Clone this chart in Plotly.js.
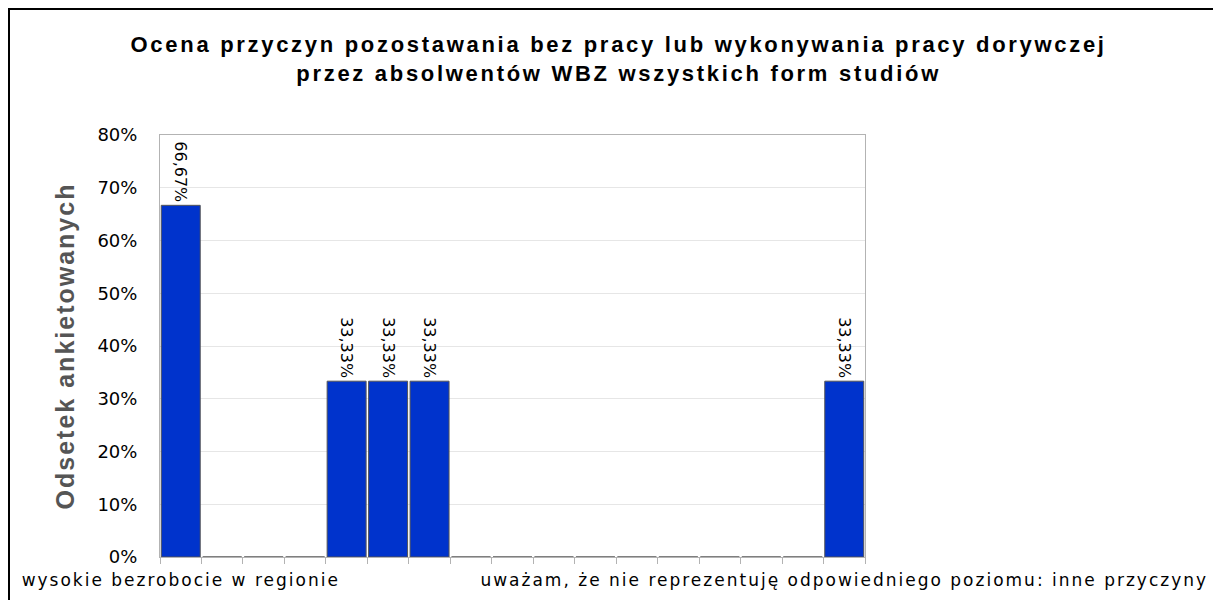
<!DOCTYPE html>
<html>
<head>
<meta charset="utf-8">
<script src="https://cdn.plot.ly/plotly-3.0.1.min.js"></script>
<style>
html,body{margin:0;padding:0;background:#fff;}
#wrap{position:relative;width:1213px;height:600px;overflow:hidden;}
#chart{position:absolute;left:0;top:0;width:1213px;height:600px;}
#frame{position:absolute;left:8px;top:8px;width:1300px;height:700px;border:2px solid #000;pointer-events:none;box-sizing:border-box;}
#chart .gtitle{letter-spacing:2.7px;}
#chart .xtick text{letter-spacing:2px;}
#chart .g-ytitle text{letter-spacing:2px;}
</style>
</head>
<body>
<div id="wrap"><div id="chart"></div><div id="frame"></div></div>
<script>
const categories = ['k1','k2','k3','k4','k5','k6','k7','k8','k9','k10','k11','k12','k13','k14','k15','k16','k17'];
const values = [0.6667,0,0,0,0.3333,0.3333,0.3333,0,0,0,0,0,0,0,0,0,0.3333];
const tickLabels = ['wysokie bezrobocie w regionie','','','','','','','','','','','','','','','','uważam, że nie reprezentuję odpowiedniego poziomu: inne przyczyny'];
const titleText = 'Ocena przyczyn pozostawania bez pracy lub wykonywania pracy dorywczej<br>przez absolwentów WBZ wszystkich form studiów';
const yTitle = 'Odsetek ankietowanych';

const barText = values.map(v => v > 0 ? (v*100).toFixed(2).replace('.', ',') + '%' : '');

const trace = {
  type: 'bar',
  x: categories,
  y: values,
  text: barText,
  textposition: 'outside',
  textangle: 90,
  constraintext: 'none',
  cliponaxis: false,
  textfont: {family: 'DejaVu Sans', size: 16, color: '#000'},
  marker: {color: '#0033cc', line: {color: '#555555', width: 1}},
  hoverinfo: 'none'
};

const layout = {
  width: 1213, height: 600,
  margin: {l: 160, r: 348, t: 135, b: 43, pad: 0},
  paper_bgcolor: '#fff', plot_bgcolor: '#fff',
  bargap: 0.06,
  showlegend: false,
  separators: ',.',
  title: {
    text: titleText,
    font: {family: 'Liberation Sans', size: 22, color: '#000', weight: 'bold'},
    x: 0.510, xanchor: 'center', xref: 'container',
    y: 1 - 52/600, yanchor: 'top', yref: 'container'
  },
  xaxis: {
    type: 'category',
    tickmode: 'array', tickvals: categories, ticktext: tickLabels,
    tickangle: 0,
    tickson: 'boundaries',
    ticks: 'outside', ticklen: 6, tickcolor: '#b3b3b3', tickwidth: 1,
    ticklabelstandoff: 8,
    showline: true, linecolor: '#b3b3b3', linewidth: 1, mirror: true,
    showgrid: false,
    tickfont: {family: 'DejaVu Sans', size: 17, color: '#000'},
    automargin: false
  },
  yaxis: {
    range: [0, 0.8], dtick: 0.1, tickformat: '.0%',
    showline: true, linecolor: '#b3b3b3', linewidth: 1, mirror: true,
    showgrid: true, gridcolor: '#e6e6e6', gridwidth: 1,
    zeroline: false, ticks: '',
    ticklabelstandoff: 18,
    tickfont: {family: 'DejaVu Sans', size: 18, color: '#000'},
    title: {text: yTitle, font: {family: 'Liberation Sans', size: 25, color: '#555555', weight: 'bold'}, standoff: 15},
    automargin: false
  }
};

Plotly.newPlot('chart', [trace], layout, {displayModeBar: false, staticPlot: true});
</script>
</body>
</html>
